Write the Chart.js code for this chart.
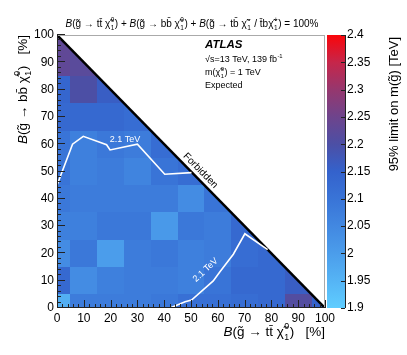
<!DOCTYPE html>
<html>
<head>
<meta charset="utf-8">
<script src="https://cdn.jsdelivr.net/npm/chart.js@4.4.0/dist/chart.umd.min.js"></script>
<style>
  body { margin: 0; background: #fff; }
  canvas { display: block; }
</style>
</head>
<body>
<canvas id="limits" width="407" height="355"></canvas>
<script>
// cell centres, 10% steps in both branching ratios
const brTT = [0, 10, 20, 30, 40, 50, 60, 70, 80, 90, 100];
const brBB = [0, 10, 20, 30, 40, 50, 60, 70, 80, 90, 100];
// expected limit [TeV], row i is at brBB[i], columns follow brTT while tt + bb <= 100
const limitRows = [
  [1.96, 2.08, 2.08, 2.08, 2.09, 2.11, 2.11, 2.12, 2.13, 2.21, 2.15],
  [2.13, 2.04, 2.07, 2.08, 2.08, 2.07, 2.10, 2.13, 2.13, 2.16],
  [2.04, 2.09, 2.00, 2.08, 2.09, 2.07, 2.08, 2.12, 2.13],
  [2.07, 2.07, 2.09, 2.09, 2.01, 2.09, 2.08, 2.13],
  [2.09, 2.08, 2.08, 2.08, 2.08, 2.04, 2.10],
  [2.10, 2.07, 2.08, 2.06, 2.10, 2.12],
  [2.10, 2.07, 2.09, 2.08, 2.12],
  [2.13, 2.13, 2.13, 2.12],
  [2.14, 2.20, 2.16],
  [2.23, 2.22],
  [2.23]
];
// 2.1 TeV contour, two pieces
const upperX = [0, 5.8, 9.8, 18.5, 19.8, 30, 40.2, 50.2];
const upperY = [45, 60, 62.9, 59.8, 57.9, 60, 49, 49.6];
const lowerX = [42.2, 47.8, 50.2, 58.3, 60.8, 65.8, 70.1, 78.6];
const lowerY = [0, 2.3, 2.9, 9.9, 13.3, 19.7, 27.2, 21.4];
// kinematic edge tt + bb = 100
const edgeX = [0, 100];
const edgeY = [100, 0];
const zMin = 1.9, zMax = 2.4;

// colour palette of the z axis
const palVals = [1.9, 1.95, 2.0, 2.05, 2.1, 2.15, 2.2, 2.25, 2.3, 2.35, 2.4];
const palCols = [
  [95, 205, 255], [85, 180, 245], [75, 157, 235], [66, 136, 225], [57, 116, 215],
  [52, 98, 204], [76, 79, 165], [110, 68, 140], [150, 55, 110], [198, 38, 74], [250, 5, 10]
];

const FAM = '"Liberation Sans", Arial, Helvetica, sans-serif';

function limitColour(v) {
  v = Math.min(zMax, Math.max(zMin, v));
  let k = 0;
  while (k < palVals.length - 2 && v > palVals[k + 1]) k++;
  const f = (v - palVals[k]) / (palVals[k + 1] - palVals[k]);
  const c = palCols[k].map((a, n) => Math.round(a + f * (palCols[k + 1][n] - a)));
  return `rgb(${c[0]},${c[1]},${c[2]})`;
}

// text with italic bits and stacked super/subscripts
function rich(ctx, parts, x, y, size, align) {
  const fN = `${size}px ${FAM}`, fI = `italic ${size}px ${FAM}`, fS = `${(size * 0.65).toFixed(1)}px ${FAM}`;
  const items = parts.map(p => {
    if (typeof p === 'string') { ctx.font = fN; return {t: p, f: fN, w: ctx.measureText(p).width}; }
    if (p.it) { ctx.font = fI; return {t: p.it, f: fI, w: ctx.measureText(p.it).width}; }
    ctx.font = fS;
    return {sup: p.sup || '', sub: p.sub || '', w: Math.max(ctx.measureText(p.sup || '').width, ctx.measureText(p.sub || '').width) + 1};
  });
  const total = items.reduce((s, it) => s + it.w, 0);
  let cx = align === 'right' ? x - total : align === 'center' ? x - total / 2 : x;
  ctx.textAlign = 'left';
  ctx.textBaseline = 'alphabetic';
  items.forEach(it => {
    if (it.f) { ctx.font = it.f; ctx.fillText(it.t, cx, y); }
    else {
      ctx.font = fS;
      ctx.fillText(it.sup, cx + 0.5, y - size * 0.5);
      ctx.fillText(it.sub, cx + 0.5, y + size * 0.3);
    }
    cx += it.w;
  });
}

const tilG = 'g\u0303', chi = '\u03c7\u0303', bar = '\u0304';

const heatCells = {
  id: 'heatCells',
  beforeDatasetsDraw(chart) {
    const {ctx, scales: {x, y}} = chart;
    ctx.save();
    ctx.beginPath();
    ctx.moveTo(x.getPixelForValue(0), y.getPixelForValue(0));
    ctx.lineTo(x.getPixelForValue(100), y.getPixelForValue(0));
    ctx.lineTo(x.getPixelForValue(0), y.getPixelForValue(100));
    ctx.closePath();
    ctx.clip();
    limitRows.forEach((row, j) => {
      row.forEach((v, i) => {
        const x0 = Math.round(x.getPixelForValue(Math.max(0, brTT[i] - 5)));
        const x1 = Math.round(x.getPixelForValue(Math.min(100, brTT[i] + 5)));
        const y0 = Math.round(y.getPixelForValue(Math.max(0, brBB[j] - 5)));
        const y1 = Math.round(y.getPixelForValue(Math.min(100, brBB[j] + 5)));
        ctx.fillStyle = limitColour(v);
        ctx.fillRect(x0, y1, x1 - x0, y0 - y1);
      });
    });
    ctx.restore();
  }
};

const decorations = {
  id: 'decorations',
  afterDatasetsDraw(chart) {
    const {ctx, chartArea: a, scales: {x, y, z}} = chart;
    ctx.save();
    // frame
    ctx.strokeStyle = '#aaa';
    ctx.lineWidth = 1;
    ctx.beginPath();
    ctx.moveTo(a.left, a.top + 0.5); ctx.lineTo(a.right, a.top + 0.5);
    ctx.moveTo(a.right - 0.5, a.top); ctx.lineTo(a.right - 0.5, a.bottom);
    ctx.stroke();
    ctx.strokeStyle = '#222';
    ctx.beginPath();
    ctx.moveTo(a.left + 0.5, a.top); ctx.lineTo(a.left + 0.5, a.bottom);
    ctx.moveTo(a.left, a.bottom - 0.5); ctx.lineTo(a.right, a.bottom - 0.5);
    for (let v = 0; v <= 100; v += 2) {
      const len = v % 10 === 0 ? 8 : 4;
      const px = Math.round(x.getPixelForValue(v)) + 0.5;
      ctx.moveTo(px, a.bottom); ctx.lineTo(px, a.bottom - len);
      const py = Math.round(y.getPixelForValue(v)) - 0.5;
      ctx.moveTo(a.left, py); ctx.lineTo(a.left + len, py);
    }
    ctx.stroke();

    // colour bar
    const zt = z.getPixelForValue(zMax), zb = z.getPixelForValue(zMin);
    const bx0 = a.right + 2, bx1 = a.right + 20;
    const g = ctx.createLinearGradient(0, zb, 0, zt);
    palVals.forEach((v, k) => g.addColorStop((v - zMin) / (zMax - zMin), `rgb(${palCols[k].join(',')})`));
    ctx.fillStyle = g;
    ctx.fillRect(bx0, zt, bx1 - bx0, zb - zt);
    ctx.strokeStyle = '#222';
    ctx.beginPath();
    ctx.moveTo(bx1 + 0.5, zt); ctx.lineTo(bx1 + 0.5, zb);
    z.ticks.forEach(t => {
      const py = Math.round(z.getPixelForValue(t.value)) + 0.5;
      ctx.moveTo(bx1, py); ctx.lineTo(bx1 - 4, py);
    });
    ctx.stroke();

    ctx.fillStyle = '#000';
    // header
    rich(ctx, [{it: 'B'}, `(${tilG} \u2192 tt${bar} ${chi}`, {sup: '0', sub: '1'}, ') + ',
      {it: 'B'}, `(${tilG} \u2192 bb${bar} ${chi}`, {sup: '0', sub: '1'}, ') + ',
      {it: 'B'}, `(${tilG} \u2192 tb${bar} ${chi}`, {sup: '\u2212', sub: '1'}, ` / t${bar}b${chi}`, {sup: '+', sub: '1'}, ') = 100%'],
      192, 27, 10, 'center');
    // ATLAS block
    ctx.font = `bold italic 11.5px ${FAM}`;
    ctx.textAlign = 'left';
    ctx.fillText('ATLAS', 205, 48);
    rich(ctx, ['\u221As=13 TeV, 139 fb', {sup: '-1'}], 205, 62, 9, 'left');
    rich(ctx, [`m(${chi}`, {sup: '0', sub: '1'}, ') = 1 TeV'], 205, 75, 9, 'left');
    rich(ctx, ['Expected'], 205, 88, 9, 'left');
    // axis titles
    rich(ctx, [{it: 'B'}, `(${tilG} \u2192 tt${bar} ${chi}`, {sup: '0', sub: '1'}, ')   [%]'], a.right, 336, 13.5, 'right');
    ctx.save();
    ctx.translate(27, a.top);
    ctx.rotate(-Math.PI / 2);
    rich(ctx, [{it: 'B'}, `(${tilG} \u2192 bb${bar} ${chi}`, {sup: '0', sub: '1'}, ')   [%]'], 0, 0, 13.5, 'right');
    ctx.restore();
    ctx.save();
    ctx.translate(398, a.top + 2);
    ctx.rotate(-Math.PI / 2);
    rich(ctx, [`95% limit on m(${tilG}) [TeV]`], 0, 0, 13, 'right');
    ctx.restore();

    // in-plot labels
    const label = (txt, vx, vy, rot, size, col) => {
      ctx.save();
      ctx.translate(x.getPixelForValue(vx), y.getPixelForValue(vy));
      ctx.rotate(rot);
      ctx.font = `${size}px ${FAM}`;
      ctx.fillStyle = col;
      ctx.textAlign = 'center';
      ctx.textBaseline = 'middle';
      ctx.fillText(txt, 0, 0);
      ctx.restore();
    };
    const diagRot = Math.atan2(y.getPixelForValue(0) - y.getPixelForValue(100), x.getPixelForValue(100) - x.getPixelForValue(0));
    label('Forbidden', 53.5, 50.3, diagRot, 10, '#000');
    label('2.1 TeV', 25.4, 61.8, 0, 9, '#fff');
    label('2.1 TeV', 55.4, 13.9, -0.75, 9, '#fff');
    ctx.restore();
  }
};

const pts = (xs, ys) => xs.map((v, i) => ({x: v, y: ys[i]}));
const lineStyle = {showLine: true, pointRadius: 0, borderColor: '#fff', borderWidth: 1.6, fill: false};

Chart.defaults.font.family = FAM;
Chart.defaults.color = '#000';

new Chart(document.getElementById('limits'), {
  type: 'scatter',
  data: {
    datasets: [
      {data: pts(upperX, upperY), ...lineStyle},
      {data: pts(lowerX, lowerY), ...lineStyle},
      {data: pts(edgeX, edgeY), showLine: true, pointRadius: 0, borderColor: '#000', borderWidth: 2.5}
    ]
  },
  options: {
    responsive: false,
    devicePixelRatio: 1,
    animation: false,
    layout: {padding: {top: 35}},
    plugins: {legend: {display: false}, tooltip: {enabled: false}},
    scales: {
      x: {
        type: 'linear', position: 'bottom', min: 0, max: 100,
        grid: {display: false, drawTicks: false}, border: {display: false},
        ticks: {stepSize: 10, padding: 3, maxRotation: 0, font: {size: 12}},
        afterFit: s => { s.height = 47; }
      },
      y: {
        type: 'linear', position: 'left', min: 0, max: 100,
        grid: {display: false, drawTicks: false}, border: {display: false},
        ticks: {stepSize: 10, padding: 3, font: {size: 12}},
        afterFit: s => { s.width = 57; }
      },
      z: {
        type: 'linear', position: 'right', min: zMin, max: zMax,
        grid: {display: false, drawTicks: false}, border: {display: false},
        ticks: {stepSize: 0.05, padding: 22, font: {size: 12}, callback: v => String(Number(v.toFixed(2)))},
        afterFit: s => { s.width = 82; }
      }
    }
  },
  plugins: [heatCells, decorations]
});
</script>
</body>
</html>
